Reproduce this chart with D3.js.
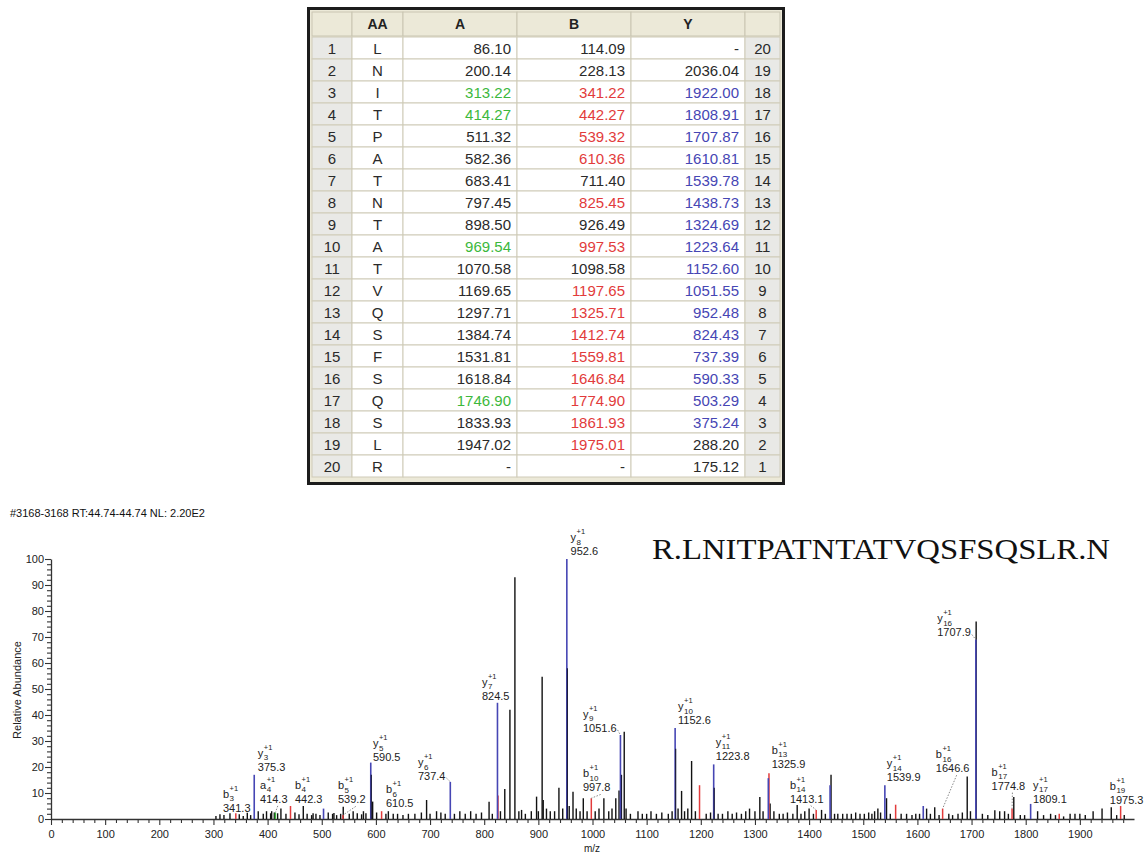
<!DOCTYPE html>
<html><head><meta charset="utf-8">
<script src="https://cdn.jsdelivr.net/npm/d3@7"></script>
<style>
html,body{margin:0;padding:0;background:#fff;}
svg{display:block;font-family:"Liberation Sans",Arial,sans-serif;}
</style></head>
<body>
<svg id="chart" width="1148" height="855"></svg>
<script>
// ---------------- DATA ----------------
const residues = ['L','N','I','T','P','A','T','N','T','A','T','V','Q','S','F','S','Q','S','L','R'];
const aIons = ['86.10','200.14','313.22','414.27','511.32','582.36','683.41','797.45','898.50','969.54','1070.58','1169.65','1297.71','1384.74','1531.81','1618.84','1746.90','1833.93','1947.02','-'];
const bIons = ['114.09','228.13','341.22','442.27','539.32','610.36','711.40','825.45','926.49','997.53','1098.58','1197.65','1325.71','1412.74','1559.81','1646.84','1774.90','1861.93','1975.01','-'];
const yIons = ['-','2036.04','1922.00','1808.91','1707.87','1610.81','1539.78','1438.73','1324.69','1223.64','1152.60','1051.55','952.48','824.43','737.39','590.33','503.29','375.24','288.20','175.12'];
const aMatchedRows = [3,4,10,17];
const bMatchedRows = [3,4,5,6,8,10,12,13,14,15,16,17,18,19];
const yMatchedRows = [3,4,5,6,7,8,9,10,11,12,13,14,15,16,17,18];
const tableHeaders = ['','AA','A','B','Y',''];

const scanHeader = '#3168-3168 RT:44.74-44.74 NL: 2.20E2';
const peptide = 'R.LNITPATNTATVQSFSQSLR.N';
const xTickValues = [0,100,200,300,400,500,600,700,800,900,1000,1100,1200,1300,1400,1500,1600,1700,1800,1900];
const yTickValues = [0,10,20,30,40,50,60,70,80,90,100];

// unassigned peaks [m/z, relative abundance]
const otherPeaks = [
 [304.6,1.2],[312,1.8],[319.4,1.5],[330.5,2.2],[347.7,1.8],[355,1.2],[362.5,2.4],[368.7,1.5],
 [382.7,3],[392,2],[398,3],[405.6,2.2],[407.5,3],[412.4,2.5],[418.5,2.2],[424.6,4],[433.9,2],
 [450.5,2.5],[458,1.8],[465.9,5],[473,2],[481.3,1.5],[484,2.2],[489.3,2],[496.7,1.5],[512,2.5],
 [520,2],[522.5,2.3],[527.5,1.5],[534.9,2],[539.7,4.7],[550.8,2],[558,3],[565.6,2.2],[573.6,1.8],
 [577,3],[581.6,2.2],[594,6.7],[601.3,2.5],[618.5,2],[623,3],[632,2],[640,2],[650,1.5],[660,2],
 [672,2],[684,2.5],[693.6,7.3],[700,2],[712,3],[720,2.5],[728,2],[745,2],[755,3],[765,2],[775,3],
 [785,2],[795,2.5],[809,6.6],[815,2],[830,3],[838,11.5],[847.5,42],[856.7,93],[864,3],[869,3.5],
 [876,2],[887,3],[896.7,8.6],[900,3],[907,54.7],[909,7.3],[915,4],[922,3],[930,3],[938,12],[945,4],
 [957,5],[964,10.5],[970,4],[977,3],[983,8],[990,3],[1005,3],[1012,4],[1021,8],[1030,3],[1036,4],
 [1043,8],[1049,11],[1058.6,33.6],[1062,4],[1070,2],[1084,3],[1092,2],[1100,2],[1108,3],[1118,2],
 [1128,2.5],[1140,2],[1147,3],[1158,4],[1164.5,10.8],[1170,3],[1176,4],[1183,22.3],[1190,3],
 [1210,2],[1218,2.5],[1232,2],[1240,2],[1250,3],[1258,2],[1266,2.5],[1275,2],[1283,3],[1290,4],
 [1300,3],[1309,8.5],[1315,3],[1328,6],[1335,3],[1345,2],[1352,2],[1360,2.5],[1370,2],[1378,5.4],
 [1385,2],[1392,3],[1400,4],[1408,2],[1423,3.5],[1430,2],[1440.5,17],[1447,2],[1453,2],[1462,2],
 [1470,2],[1478,2],[1486,2.5],[1494,2],[1502,2],[1510,2.5],[1516,2],[1521,3],[1527,4],[1532,2.5],
 [1543,8],[1550,2],[1570,2],[1580,2],[1590,1.5],[1597,2],[1604,2],[1617,4],[1624,2],[1632,4.5],
 [1640,1.5],[1658,2],[1665,1.5],[1675,2],[1683,2.5],[1692,16.3],[1698,3],[1708.5,76],[1720,2],
 [1730,1.5],[1743,3.4],[1752,3],[1761,3],[1768,2],[1778,8.5],[1790,1.5],[1798,1.5],[1822,3],
 [1833,1.5],[1846,2],[1855,1.5],[1870,1],[1882,2],[1891,2],[1900,2],[1910,1.5],[1924.5,3],
 [1941,4],[1958,4.5],[1968,1.5],[1982,1.5]
];
// isotope peaks overlapping the assigned ions
const isotopePeaks = [[591.5,17],[953.6,58],[1053.6,17],[1153.6,27],[1224.8,12]];
// assigned peaks
const bPeaks = [[341.3,2.2],[442.3,5],[539.2,1.5],[610.5,3],[825.45,9],[997.8,8],[1197.65,13],[1325.9,17.6],[1413.1,3.5],[1559.81,5.5],[1646.6,4],[1774.8,4],[1861.93,2],[1975.3,5]];
const yPeaks = [[375.3,17],[503.29,4],[590.5,21.7],[737.4,14.3],[824.5,44.7],[952.6,100],[1051.6,32.3],[1152.6,35],[1223.8,21],[1324.69,15.7],[1438.73,13],[1539.9,13],[1610.81,5],[1707.9,69],[1809.1,5.8]];
const aPeaks = [[414.3,2.5]];

// annotations: ion, index, label text, peak m/z, label anchor (m/z, abundance), leader line
const annotations = [
 {ion:'b',n:'3', text:'341.3', mz:341.3, lx:317.6, ly:2.7, lead:false},
 {ion:'y',n:'3', text:'375.3', mz:375.3, lx:382, ly:18.5, lead:false},
 {ion:'a',n:'4', text:'414.3', mz:414.3, lx:386, ly:6.2, lead:true},
 {ion:'b',n:'4', text:'442.3', mz:442.3, lx:450.5, ly:6.2, lead:false},
 {ion:'b',n:'5', text:'539.2', mz:539.2, lx:530, ly:6.0, lead:true},
 {ion:'y',n:'5', text:'590.5', mz:590.5, lx:594.5, ly:22.3, lead:false},
 {ion:'b',n:'6', text:'610.5', mz:610.5, lx:618.5, ly:4.6, lead:false},
 {ion:'y',n:'6', text:'737.4', mz:737.4, lx:677.6, ly:15, lead:true},
 {ion:'y',n:'7', text:'824.5', mz:824.5, lx:795.8, ly:45.8, lead:false},
 {ion:'y',n:'8', text:'952.6', mz:952.6, lx:959.6, ly:101.5, lead:false},
 {ion:'y',n:'9', text:'1051.6', mz:1051.6, lx:982.3, ly:33.5, lead:true},
 {ion:'b',n:'10', text:'997.8', mz:997.8, lx:982.3, ly:10.6, lead:true},
 {ion:'y',n:'10', text:'1152.6', mz:1152.6, lx:1158, ly:36.5, lead:false},
 {ion:'y',n:'11', text:'1223.8', mz:1223.8, lx:1227.8, ly:22.7, lead:false},
 {ion:'b',n:'13', text:'1325.9', mz:1325.9, lx:1331, ly:19.8, lead:false},
 {ion:'b',n:'14', text:'1413.1', mz:1413.1, lx:1364.5, ly:6.3, lead:true},
 {ion:'y',n:'14', text:'1539.9', mz:1539.9, lx:1543.6, ly:14.6, lead:false},
 {ion:'b',n:'16', text:'1646.6', mz:1646.6, lx:1634, ly:18, lead:true},
 {ion:'y',n:'16', text:'1707.9', mz:1707.9, lx:1636.5, ly:70.2, lead:true},
 {ion:'b',n:'17', text:'1774.8', mz:1774.8, lx:1737, ly:11.3, lead:true},
 {ion:'y',n:'17', text:'1809.1', mz:1809.1, lx:1813.7, ly:6.3, lead:false},
 {ion:'b',n:'19', text:'1975.3', mz:1975.3, lx:1955.3, ly:5.8, lead:false}
];

// ---------------- DRAW ----------------
const svg = d3.select('#chart');
const COL = {b:'#e23b3b', y:'#4646b4', a:'#3cb83c', n:'#111'};

// ---- table ----
const colEdges = [312,352,403,517,631,745,780];
const headTop = 12, headH = 24, rowTop = 37, rowH = 22;
const tbl = svg.append('g');
tbl.append('rect').attr('x',308.5).attr('y',8.5).attr('width',475).attr('height',475)
  .attr('fill','#ece9d8').attr('stroke','#1c1c1c').attr('stroke-width',3);
// header
tableHeaders.forEach((h,i)=>{
  tbl.append('rect').attr('x',colEdges[i]).attr('y',headTop).attr('width',colEdges[i+1]-colEdges[i]).attr('height',headH)
    .attr('fill','#ece9d8').attr('stroke','#c9c5b2').attr('stroke-width',1);
  tbl.append('text').attr('x',(colEdges[i]+colEdges[i+1])/2).attr('y',headTop+17).attr('text-anchor','middle')
    .attr('font-size',14).attr('font-weight','bold').attr('fill','#222').text(h);
});
const rows = residues.map((r,i)=>({
  idx:i+1, aa:r, a:aIons[i], b:bIons[i], y:yIons[i], rev:20-i,
  ac: aMatchedRows.includes(i+1)?COL.a:'#2a2a2a',
  bc: bMatchedRows.includes(i+1)?COL.b:'#2a2a2a',
  yc: yMatchedRows.includes(i+1)?COL.y:'#2a2a2a'
}));
const rg = tbl.selectAll('g.row').data(rows).join('g').attr('class','row')
  .attr('transform',(d,i)=>`translate(0,${rowTop+i*rowH})`);
const cellFill = ['#e9e9e6','#fff','#fff','#fff','#fff','#e9e9e6'];
for(let c=0;c<6;c++){
  rg.append('rect').attr('x',colEdges[c]).attr('y',0).attr('width',colEdges[c+1]-colEdges[c]).attr('height',rowH)
    .attr('fill',cellFill[c]).attr('stroke','#cfcbb8').attr('stroke-width',1);
}
const tfont = 15;
rg.append('text').attr('x',(colEdges[0]+colEdges[1])/2).attr('y',16.5).attr('text-anchor','middle').attr('font-size',tfont).attr('fill','#2a2a2a').text(d=>d.idx);
rg.append('text').attr('x',(colEdges[1]+colEdges[2])/2).attr('y',16.5).attr('text-anchor','middle').attr('font-size',tfont).attr('fill','#2a2a2a').text(d=>d.aa);
rg.append('text').attr('x',colEdges[3]-6).attr('y',16.5).attr('text-anchor','end').attr('font-size',tfont).attr('fill',d=>d.ac).text(d=>d.a);
rg.append('text').attr('x',colEdges[4]-6).attr('y',16.5).attr('text-anchor','end').attr('font-size',tfont).attr('fill',d=>d.bc).text(d=>d.b);
rg.append('text').attr('x',colEdges[5]-6).attr('y',16.5).attr('text-anchor','end').attr('font-size',tfont).attr('fill',d=>d.yc).text(d=>d.y);
rg.append('text').attr('x',(colEdges[5]+colEdges[6])/2).attr('y',16.5).attr('text-anchor','middle').attr('font-size',tfont).attr('fill','#2a2a2a').text(d=>d.rev);

// ---- spectrum ----
const x = d3.scaleLinear().domain([0,2000]).range([51,1134]);
const y = d3.scaleLinear().domain([0,100]).range([819,559]);

svg.append('text').attr('x',10).attr('y',517).attr('font-size',11).attr('fill','#111').text(scanHeader);
svg.append('text').attr('x',652).attr('y',559).attr('font-family','"Liberation Serif","Times New Roman",serif')
  .attr('font-size',30).attr('fill','#111').attr('textLength',458).attr('lengthAdjust','spacingAndGlyphs').text(peptide);

// axes
const xAxis = svg.append('g').attr('transform','translate(0,819)')
  .call(d3.axisBottom(x).tickValues(xTickValues).tickSize(6).tickSizeOuter(0).tickFormat(d3.format('d')));
const xMinor = svg.append('g').attr('transform','translate(0,819)')
  .call(d3.axisBottom(x).tickValues(d3.range(20,2000,20).filter(v=>v%100!==0)).tickSize(4).tickSizeOuter(0).tickFormat(''));
xMinor.select('.domain').remove();
const yAxis = svg.append('g').attr('transform','translate(51,0)')
  .call(d3.axisLeft(y).tickValues(yTickValues).tickSize(6).tickSizeOuter(0).tickPadding(1));
const yMinor = svg.append('g').attr('transform','translate(51,0)')
  .call(d3.axisLeft(y).tickValues(d3.range(2,100,2).filter(v=>v%10!==0)).tickSize(4).tickSizeOuter(0).tickFormat(''));
yMinor.select('.domain').remove();
svg.selectAll('.tick line').attr('stroke','#333').attr('stroke-width',1.1);
svg.selectAll('.domain').attr('stroke','#333').attr('stroke-width',1.3);
svg.selectAll('.tick text').attr('font-size',11).attr('fill','#222').attr('font-family','"Liberation Sans",Arial,sans-serif');
xAxis.selectAll('.tick text').attr('dy','0.9em');

svg.append('text').attr('x',592).attr('y',852).attr('text-anchor','middle').attr('font-size',10).attr('fill','#222').text('m/z');
svg.append('text').attr('transform','translate(21,690) rotate(-90)').attr('text-anchor','middle').attr('font-size',11).attr('fill','#222').text('Relative Abundance');

// peaks
const peakG = svg.append('g');
function drawPeaks(data,color,w){
  peakG.append('g').selectAll('line').data(data).join('line')
    .attr('x1',d=>x(d[0])).attr('x2',d=>x(d[0])).attr('y1',y(0)).attr('y2',d=>y(d[1]))
    .attr('stroke',color).attr('stroke-width',w);
}
drawPeaks(otherPeaks,COL.n,1.4);
drawPeaks(aPeaks,COL.a,1.5);
drawPeaks(bPeaks,COL.b,1.5);
drawPeaks(yPeaks,COL.y,1.6);
drawPeaks(isotopePeaks,'#1a1a3a',1.2);

// annotations
const allIon = {a:aPeaks,b:bPeaks,y:yPeaks};
const annG = svg.append('g').attr('fill','#222');
annotations.forEach(d=>{
  const g = annG.append('g').attr('transform',`translate(${x(d.lx)},${y(d.ly)})`);
  const val = g.append('text').attr('x',0).attr('y',0).attr('font-size',11).text(d.text);
  const let_ = g.append('text').attr('x',0).attr('y',-14).attr('font-size',11).text(d.ion);
  const w = let_.node().getComputedTextLength()+0.5;
  g.append('text').attr('x',w).attr('y',-21).attr('font-size',7.5).text('+1');
  g.append('text').attr('x',w).attr('y',-10.5).attr('font-size',8).text(d.n);
  if(d.lead){
    const pk = allIon[d.ion].find(p=>p[0]===d.mz);
    const vw = val.node().getComputedTextLength();
    const px = x(d.mz), py = y(pk[1]);
    const lx = x(d.lx), ly = y(d.ly);
    let sx, sy;
    if(py > ly + 6){ sx = lx + vw/2 + 4; sy = ly + 3; }
    else { sx = lx + vw + 1; sy = ly - 2; }
    svg.append('line').attr('x1',sx).attr('y1',sy).attr('x2',px).attr('y2',py)
      .attr('stroke','#888').attr('stroke-width',1).attr('stroke-dasharray','1.5,1.5');
  }
});
</script>
</body></html>
